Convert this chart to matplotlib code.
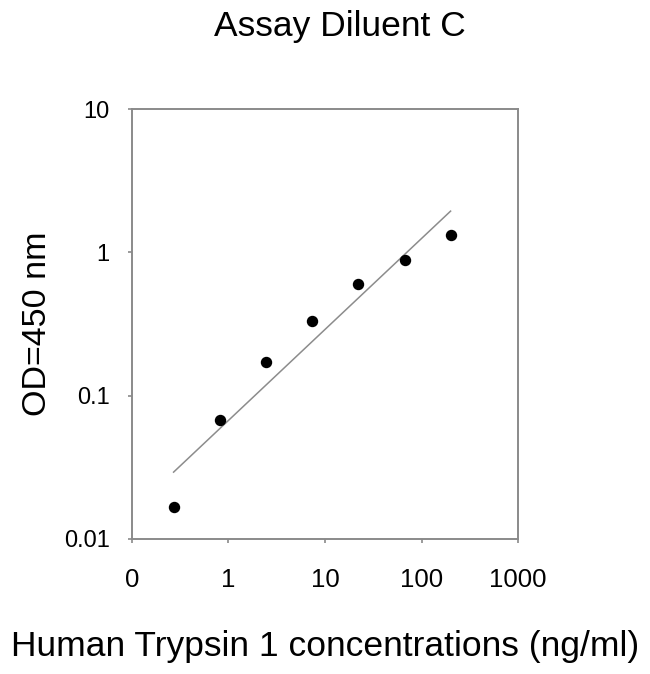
import numpy as np
import matplotlib
matplotlib.use('Agg')
import matplotlib.pyplot as plt
from matplotlib.ticker import FixedLocator, FixedFormatter, NullLocator

plt.rcParams['font.family'] = ['Liberation Sans', 'DejaVu Sans']

# Human Trypsin 1 standard curve, 3-fold dilutions
conc = [0.27, 0.82, 2.47, 7.4, 22.2, 66.7, 200]
od = [0.0166, 0.0674, 0.171, 0.333, 0.600, 0.885, 1.33]

x_ticks = [0.1, 1, 10, 100, 1000]
x_tick_labels = ['0', '1', '10', '100', '1000']
y_ticks = [0.01, 0.1, 1, 10]
y_tick_labels = ['0.01', '0.1', '1', '10']

spine_col = '#8a8a8a'

fig = plt.figure(figsize=(6.5, 6.74), dpi=100)
ax = fig.add_axes([0.203, 0.2003, 0.594, 0.6377])

# power-law fit (straight line on log-log)
lx = np.log10(conc)
ly = np.log10(od)
b, a = np.polyfit(lx, ly, 1)
fit_x = np.array([min(conc), max(conc)])
fit_y = 10 ** (a + b * np.log10(fit_x))
ax.plot(fit_x, fit_y, color='#8c8c8c', linewidth=1.1)

ax.plot(conc, od, 'o', color='black', markersize=7.2, linestyle='none')

ax.set_xscale('log')
ax.set_yscale('log')
ax.set_xlim(0.1, 1000)
ax.set_ylim(0.01, 10)

ax.xaxis.set_major_locator(FixedLocator(x_ticks))
ax.xaxis.set_major_formatter(FixedFormatter(x_tick_labels))
ax.xaxis.set_minor_locator(NullLocator())
ax.yaxis.set_major_locator(FixedLocator(y_ticks))
ax.yaxis.set_major_formatter(FixedFormatter(y_tick_labels))
ax.yaxis.set_minor_locator(NullLocator())

for s in ax.spines.values():
    s.set_color(spine_col)
    s.set_linewidth(1.4)

ax.tick_params(axis='x', direction='out', length=3, width=1.2, color=spine_col,
               labelsize=18.5, pad=18)
ax.tick_params(axis='y', direction='out', length=3, width=1.2, color=spine_col,
               labelsize=17, pad=13)

ax.set_ylabel('OD=450 nm', fontsize=24.5, labelpad=8)
ax.set_xlabel('Human Trypsin 1 concentrations (ng/ml)', fontsize=25.5, labelpad=27)
fig.text(0.523, 1 - 36 / 674, 'Assay Diluent C', ha='center', va='baseline', fontsize=25.5)

plt.savefig('out.png', dpi=100)
